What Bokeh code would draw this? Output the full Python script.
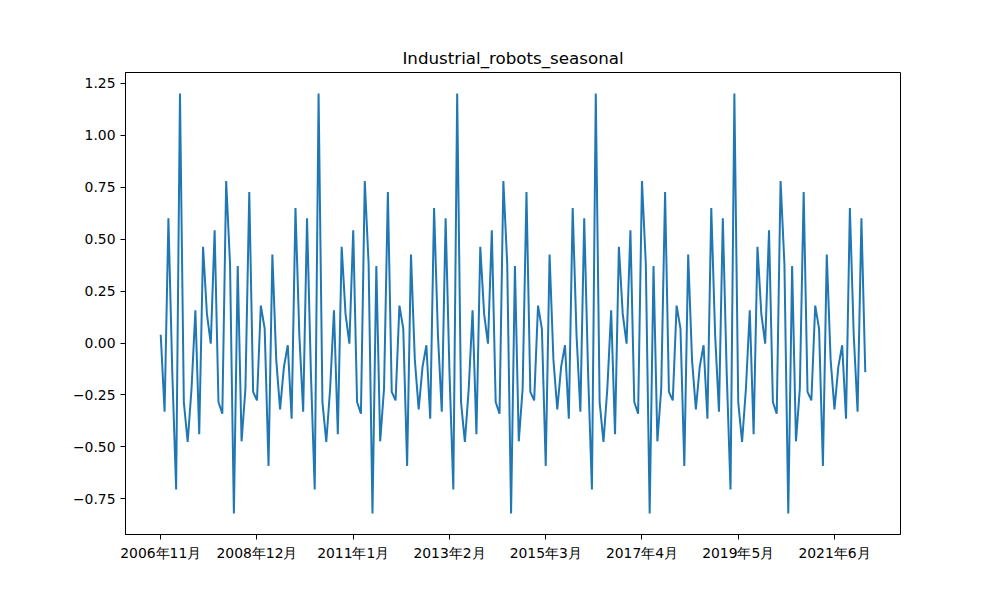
from bokeh.plotting import figure
from bokeh.models import Range1d, FixedTicker
from bokeh.embed import file_html
from bokeh.resources import INLINE

title_text = "Industrial_robots_seasonal"

# seasonal pattern (period 36 monthly steps)
seasonal_pattern = [
    0.04, -0.33, 0.60, -0.14, -0.705, 1.20, -0.284, -0.476, -0.22, 0.157,
    -0.439, 0.463, 0.14, -0.003, 0.542, -0.284, -0.34, 0.779, 0.38, -0.82,
    0.37, -0.473, -0.22, 0.726, -0.235, -0.276, 0.18, 0.069, -0.591, 0.425,
    -0.08, -0.319, -0.115, -0.011, -0.364, 0.649,
]
n_months = 184  # 2006-11 .. 2022-02
start_year, start_month = 2006, 11

x_tick_positions = [0, 25, 50, 75, 100, 125, 150, 175]
x_tick_labels = ["2006年11月", "2008年12月", "2011年1月", "2013年2月",
                 "2015年3月", "2017年4月", "2019年5月", "2021年6月"]
y_ticks = [-0.75, -0.5, -0.25, 0.0, 0.25, 0.5, 0.75, 1.0, 1.25]

x = list(range(n_months))
y = [seasonal_pattern[i % len(seasonal_pattern)] for i in x]

xmin, xmax = min(x), max(x)
ymin, ymax = min(y), max(y)
xpad = (xmax - xmin) * 0.05
ypad = (ymax - ymin) * 0.05

p = figure(width=1000, height=600, output_backend="svg", toolbar_location=None,
           x_range=Range1d(xmin - xpad, xmax + xpad),
           y_range=Range1d(ymin - ypad, ymax + ypad),
           min_border_left=125, min_border_right=100,
           min_border_top=72, min_border_bottom=66)
p.background_fill_color = "white"
p.border_fill_color = "white"
p.outline_line_color = "black"
p.outline_line_width = 1
p.xgrid.visible = False
p.ygrid.visible = False

p.line(x, y, line_color="#1f77b4", line_width=2)

p.title.text = title_text
p.title.align = "center"
p.title.text_font = "DejaVu Sans"
p.title.text_font_size = "16.7px"
p.title.text_font_style = "normal"
p.title.text_color = "black"

font = "DejaVu Sans"
for ax in (p.xaxis[0], p.yaxis[0]):
    ax.axis_line_color = "black"
    ax.major_tick_line_color = "black"
    ax.major_tick_out = 5
    ax.major_tick_in = 0
    ax.minor_tick_line_color = None
    ax.major_label_text_font = font
    ax.major_label_text_font_size = "13.9px"
    ax.major_label_text_color = "black"
    ax.major_label_standoff = 5

p.xaxis[0].ticker = FixedTicker(ticks=x_tick_positions)
p.xaxis[0].major_label_overrides = {t: l for t, l in zip(x_tick_positions, x_tick_labels)}
p.yaxis[0].ticker = FixedTicker(ticks=y_ticks)
p.yaxis[0].major_label_overrides = {t: ("%.2f" % t).replace("-", "\u2212") for t in y_ticks}

open("out.html", "w").write(file_html(p, INLINE))
